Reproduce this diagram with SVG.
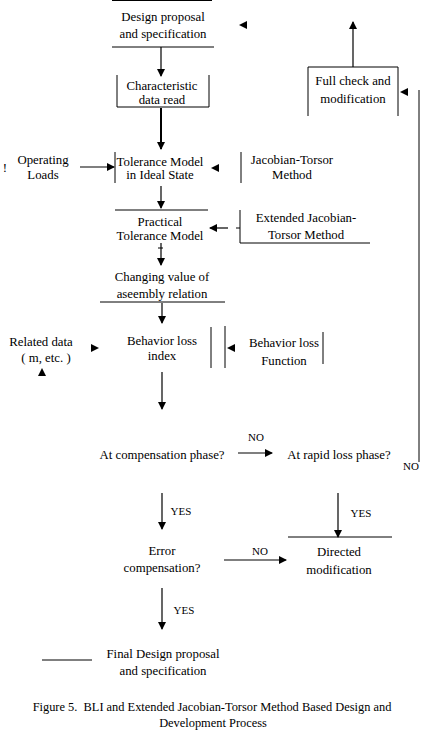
<svg xmlns="http://www.w3.org/2000/svg" width="430" height="743" viewBox="0 0 430 743">
<style>
text{font-family:"Liberation Serif","Times New Roman",serif;font-size:12.8px;fill:#000;text-anchor:middle}
.cap{font-size:12.4px}
.lb{font-size:11px}
.ln{stroke:#000;stroke-width:1;fill:none}
.ar{stroke:#000;stroke-width:1.2;fill:none;marker-end:url(#ah)}
.hd{fill:#000}
</style>
<defs>
<marker id="ah" markerWidth="8" markerHeight="8" refX="7" refY="4" orient="auto" markerUnits="userSpaceOnUse">
<path d="M0,0 L8,4 L0,8 Z" fill="#000"/>
</marker>
</defs>
<rect width="430" height="743" fill="#fff"/>
<g id="n-design">
<path class="ln" d="M112,0.5 H212 M112,47 H214"/>
<text x="163" y="21">Design proposal</text>
<text x="163" y="38">and specification</text>
</g>
<g id="n-char">
<path class="ln" d="M117,75 V107 H209 V75"/>
<text x="162" y="90">Characteristic</text>
<text x="162" y="104">data read</text>
</g>
<g id="n-full">
<path class="ln" d="M308,116 V67 H398 V116"/>
<text x="353" y="85">Full check and</text>
<text x="353" y="103">modification</text>
</g>
<g id="n-ideal">
<path class="ln" d="M115,152 V183"/>
<text x="160" y="166">Tolerance Model</text>
<text x="160" y="179">in Ideal State</text>
</g>
<g id="n-loads">
<text x="43" y="164">Operating</text>
<text x="43" y="179">Loads</text>
</g>
<g id="n-jt">
<path class="ln" d="M241,152 V183"/>
<text x="292" y="164">Jacobian-Torsor</text>
<text x="292" y="179">Method</text>
</g>
<g id="n-practical">
<path class="ln" d="M115,210 H208"/>
<text x="160" y="226">Practical</text>
<text x="160" y="240">Tolerance Model</text>
</g>
<g id="n-ejt">
<path class="ln" d="M240,210 V243 H370"/>
<text x="306" y="222">Extended Jacobian-</text>
<text x="306" y="239">Torsor Method</text>
</g>
<g id="n-changing">
<path class="ln" d="M100,302 H225"/>
<text x="162" y="281">Changing value of</text>
<text x="162" y="298">aseembly relation</text>
</g>
<g id="n-bli">
<path class="ln" d="M211,327 V368"/>
<text x="162" y="345">Behavior loss</text>
<text x="162" y="360">index</text>
</g>
<g id="n-blf">
<path class="ln" d="M225,326 V368 M323,332 V364"/>
<text x="284" y="347">Behavior loss</text>
<text x="284" y="365">Function</text>
</g>
<g id="n-related">
<text x="41" y="346">Related data</text>
<text x="46" y="362">( m, etc. )</text>
</g>
<g id="n-comp">
<text x="162" y="459">At compensation phase?</text>
</g>
<g id="n-rapid">
<text x="339" y="459">At rapid loss phase?</text>
</g>
<g id="n-error">
<text x="162" y="555">Error</text>
<text x="162" y="572">compensation?</text>
</g>
<g id="n-directed">
<path class="ln" d="M288,537 H392"/>
<text x="339" y="556">Directed</text>
<text x="339" y="574">modification</text>
</g>
<g id="n-final">
<path class="ln" d="M42,660 H92"/>
<text x="163" y="658">Final Design proposal</text>
<text x="163" y="675">and specification</text>
</g>
<g id="connectors">
<path class="ar" d="M161,47 V76"/>
<path class="ar" d="M161,108 V149" style="stroke-width:2"/>
<path class="ar" d="M353,67 V22"/>
<path class="ln" d="M419,90 V462"/>
<path class="hd" d="M400,92 L408,88 L408,96 Z"/>
<path class="hd" d="M239,25 L247,21 L247,29 Z"/>
<path class="ar" d="M80,167 H114"/>
<path class="hd" d="M211,168 L219,164 L219,172 Z"/>
<path class="ar" d="M161,186 V208"/>
<path class="ar" d="M228,228 H210"/>
<path class="ln" d="M236,228 H240"/>
<path class="ar" d="M161,243 V265"/>
<path class="ln" d="M158,248 H163"/>
<path class="ar" d="M162,303 V323"/>
<path class="hd" d="M227,348 L235,344 L235,352 Z"/>
<path class="hd" d="M99,348 L91,344 L91,352 Z"/>
<path class="hd" d="M42,368 L46,376 L38,376 Z"/>
<path class="ar" d="M162,372 V409"/>
<path class="ar" d="M238,453 H272"/>
<path class="ar" d="M162,493 V529"/>
<path class="ar" d="M338,493 V537"/>
<path class="ar" d="M224,560 H286"/>
<path class="ar" d="M162,588 V629"/>
</g>
<g id="labels">
<text class="lb" x="256" y="441">NO</text>
<text class="lb" x="411" y="470">NO</text>
<text class="lb" x="181" y="515">YES</text>
<text class="lb" x="361" y="517">YES</text>
<text class="lb" x="260" y="555">NO</text>
<text class="lb" x="184" y="614">YES</text>
<text x="5" y="172">!</text>
</g>
<g id="caption">
<text class="cap" x="212" y="711" xml:space="preserve">Figure 5.  BLI and Extended Jacobian-Torsor Method Based Design and</text>
<text class="cap" x="213" y="727">Development Process</text>
</g>
</svg>
